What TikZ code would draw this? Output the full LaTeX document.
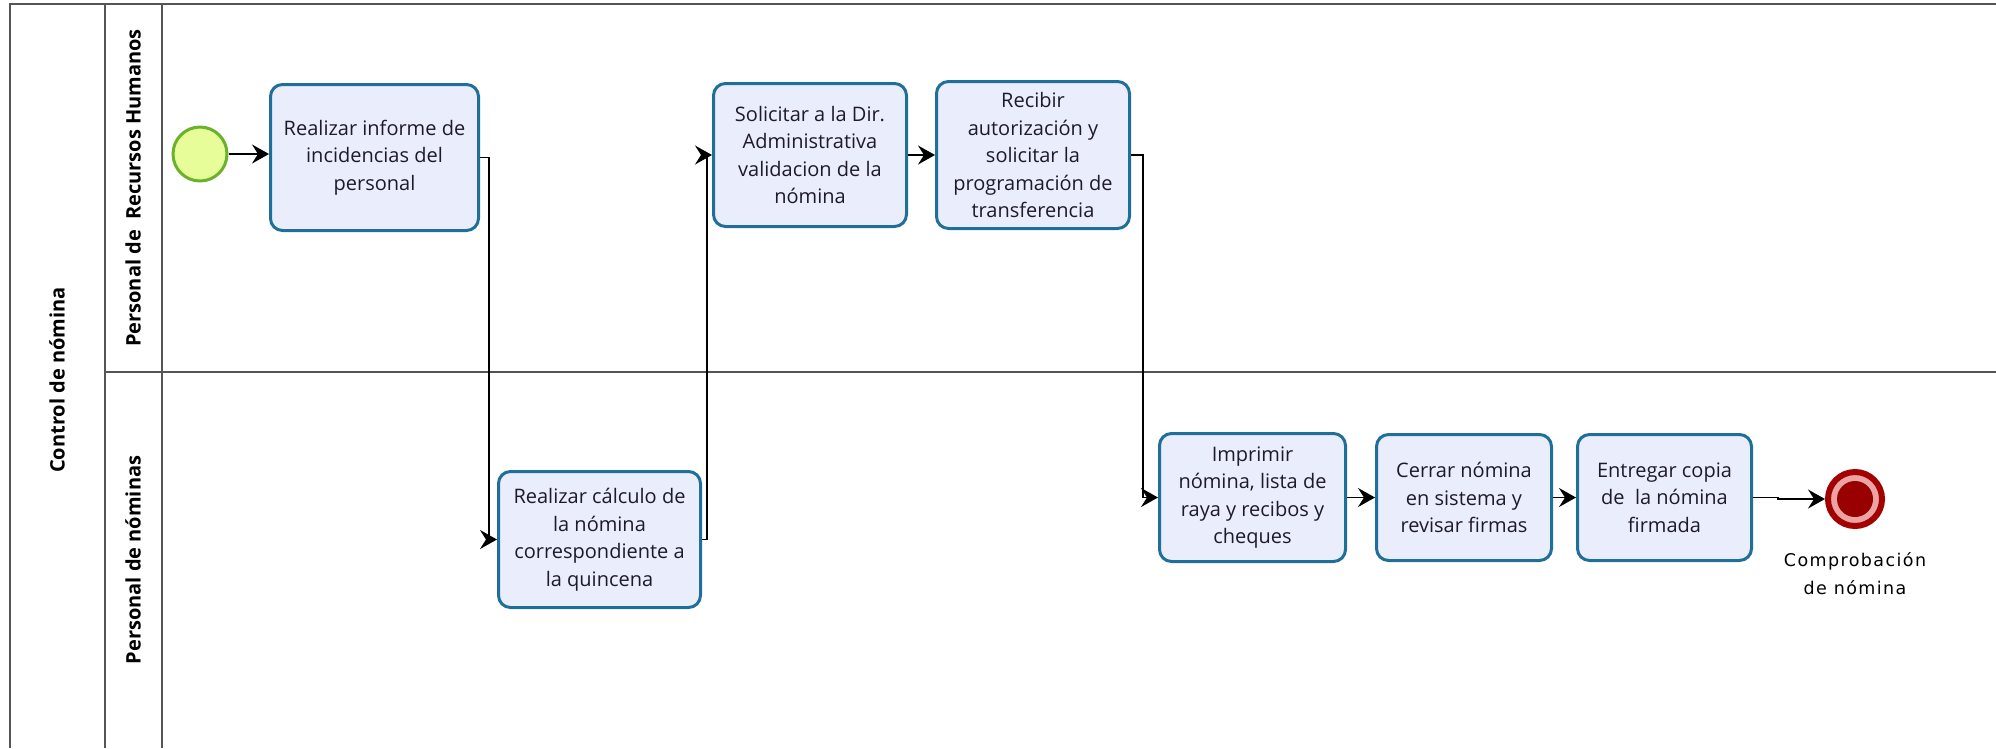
\documentclass[tikz,border=0pt]{standalone}
\usepackage{fontspec}
\setmainfont{Open Sans}
\newfontfamily\eventfont[LetterSpace=8]{DejaVu Sans}
\usetikzlibrary{arrows.meta}

\definecolor{taskfill}{HTML}{EAEEFC}
\definecolor{taskdraw}{HTML}{1F6F9A}
\definecolor{tasktext}{HTML}{1E1A2A}
\definecolor{startfill}{HTML}{E6FD99}
\definecolor{startdraw}{HTML}{6BB12C}
\definecolor{endring}{HTML}{A30000}
\definecolor{endpink}{HTML}{EBA3A3}
\definecolor{endcore}{HTML}{990000}
\definecolor{laneline}{HTML}{555555}

\begin{document}
\begin{tikzpicture}[x=1pt,y=-1pt,
  task/.style={draw=taskdraw, fill=taskfill, line width=3pt, rounded corners=12pt,
    align=center, inner sep=0pt, text=tasktext,
    font=\fontsize{20}{27.5}\selectfont},
  flow/.style={draw=black, line width=1.6pt,
    -{Stealth[length=17pt,width=19pt,inset=6pt]}},
  lane/.style={draw=laneline, line width=2pt},
  lanelabel/.style={font=\bfseries\fontsize{20}{22}\selectfont, rotate=90},
  startevent/.style={circle, draw=startdraw, fill=startfill, line width=3pt,
    minimum size=54pt, inner sep=0pt},
  endevent/.style={circle, draw=endring, fill=endpink, line width=6pt,
    minimum size=54pt, inner sep=0pt}
]
% canvas
\useasboundingbox (0,0) rectangle (1996,748);

% pool and lanes
\draw[lane] (1996,4) -- (10,4) -- (10,748);
\draw[lane] (105,4) -- (105,748);
\draw[lane] (162,4) -- (162,748);
\draw[lane] (105,372) -- (1996,372);

\node[lanelabel] (pool) at (57,380) {Control de nómina};
\node[lanelabel] (laneRH) at (133,188) {Personal de\ \ Recursos Humanos};
\node[lanelabel] (laneNom) at (133,560) {Personal de nóminas};

% events
\node[startevent] (start) at (200,154) {};
\node[endevent] (fin) at (1855,499) {};
\fill[endcore] (fin.center) circle (18);
\node[font=\eventfont\fontsize{17.5}{28}\selectfont, align=center, anchor=north]
  (finlabel) at (1855,549) {Comprobación\\de nómina};

% tasks
\node[task, minimum width=208pt, minimum height=146pt] (t1) at (374.5,157.5)
  {Realizar informe de\\incidencias del\\personal};
\node[task, minimum width=202pt, minimum height=136pt] (t2) at (599.5,539.5)
  {Realizar cálculo de\\la nómina\\correspondiente a\\la quincena};
\node[task, minimum width=193pt, minimum height=143pt] (t3) at (810,155)
  {Solicitar a la Dir.\\Administrativa\\validacion de la\\nómina};
\node[task, minimum width=193pt, minimum height=147pt] (t4) at (1033,155)
  {Recibir\\autorización y\\solicitar la\\programación de\\transferencia};
\node[task, minimum width=186pt, minimum height=128pt] (t5) at (1252.5,497.5)
  {Imprimir\\nómina, lista de\\raya y recibos y\\cheques};
\node[task, minimum width=175pt, minimum height=126pt] (t6) at (1464,497.5)
  {Cerrar nómina\\en sistema y\\revisar firmas};
\node[task, minimum width=174pt, minimum height=126pt] (t7) at (1664.5,497.5)
  {Entregar copia\\de\ \ la nómina\\firmada};

% sequence flows
\draw[flow] (start.east) -- (start.east -| t1.west);
\draw[flow] (t1.east) -- ++(9,0) |- (t2.west);
\draw[flow] (t2.east) -- ++(5,0) |- (t3.west);
\draw[flow] (t3.east) -- (t4.west);
\draw[flow] (t4.east) -- ++(12,0) |- (t5.west);
\draw[flow] (t5.east) -- (t6.west);
\draw[flow] (t6.east) -- (t7.west);
\draw[flow] (t7.east) -- ++(25,0) |- (fin.west);
\end{tikzpicture}
\end{document}
